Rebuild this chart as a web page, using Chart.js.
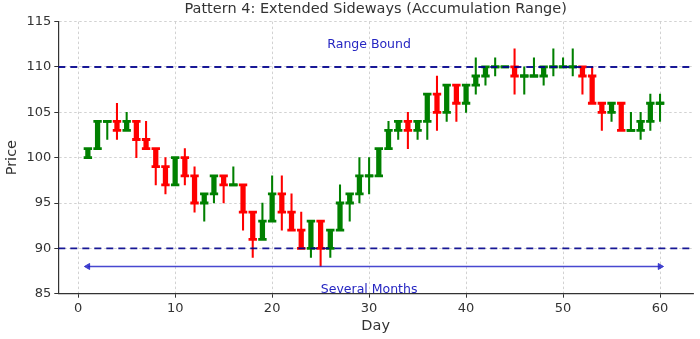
<!DOCTYPE html>
<html>
<head>
<meta charset="utf-8">
<script src="https://cdn.jsdelivr.net/npm/chart.js@4/dist/chart.umd.min.js"></script>
<style>
  html, body { margin: 0; padding: 0; background: #fff; }
  #wrap { width: 700px; height: 339px; }
</style>
</head>
<body>
<div id="wrap"><canvas id="Canvas1"></canvas></div>
<script>
// candles
var days   = [1,2,3,4,5,6,7,8,9,10,11,12,13,14,15,16,17,18,19,20,21,22,23,24,25,26,27,28,29,30,
              31,32,33,34,35,36,37,38,39,40,41,42,43,44,45,46,47,48,49,50,51,52,53,54,55,56,57,58,59,60];
var opens  = [100,101,104,104,103,104,102,101,99,97,100,98,95,96,98,97,97,94,91,93,96,94,92,90,93,90,92,95,96,98,
              98,101,103,104,103,104,107,105,108,106,108,109,110,110,110,109,109,109,110,110,110,110,109,106,105,106,103,103,104,106];
var closes = [101,104,104,103,104,102,101,99,97,100,98,95,96,98,97,97,94,91,93,96,94,92,90,93,90,92,95,96,98,98,
              101,103,104,103,104,107,105,108,106,108,109,110,110,110,109,109,109,110,110,110,110,109,106,105,106,103,103,104,106,106];
var highs  = [101,104,104,106,105,104,104,101,100,100,101,99,96,98,98,99,97,94,95,98,98,96,94,93,93,92,97,96,100,100,
              101,104,104,105,104,107,109,108,108,108,111,110,111,110,112,110,111,110,112,111,112,110,110,106,106,106,105,105,107,107];
var lows   = [100,101,102,102,103,100,101,97,96,97,97,94,93,95,95,97,92,89,91,93,92,92,90,89,88,89,92,93,95,96,
              98,101,102,101,102,102,103,104,104,105,107,108,109,110,107,107,109,108,109,110,109,107,106,103,104,103,103,102,103,104];

var xTicks = [0, 10, 20, 30, 40, 50, 60];
var yTicks = [85, 90, 95, 100, 105, 110, 115];
var rangeLevels = [110, 90];
var arrowX = [1, 60];
var arrowY = 88;
var noteTexts = ['Range Bound', 'Several Months'];
var noteX = [30, 30];
var noteY = [112.5, 85.45];

var xMin = -2.05, xMax = 63.4;
var upColor = '#008000', downColor = '#ff0000';
var candleColors = days.map(function (d, i) { return closes[i] >= opens[i] ? upColor : downColor; });
var tickFont = { family: '"DejaVu Sans"', size: 13 };
var labelFont = { family: '"DejaVu Sans"', size: 14.5 };

var notes = {
    id: 'notes',
    afterDatasetsDraw: function (chart) {
        var ctx = chart.ctx, x = chart.scales.x, y = chart.scales.y;
        ctx.save();
        ctx.font = '12.5px "DejaVu Sans"';
        ctx.fillStyle = '#2626c2';
        ctx.textAlign = 'center';
        ctx.textBaseline = 'middle';
        noteTexts.forEach(function (t, i) {
            ctx.fillText(t, x.getPixelForValue(noteX[i]), y.getPixelForValue(noteY[i]));
        });
        ctx.restore();
    }
};

var datasets = [{
    type: 'bar',
    label: 'wick',
    data: days.map(function (d, i) { return { x: d, y: [lows[i], highs[i]] }; }),
    backgroundColor: candleColors,
    barThickness: 1.4,
    grouped: false,
    order: 5
}, {
    type: 'bar',
    label: 'body',
    data: days.map(function (d, i) { return { x: d, y: [opens[i], closes[i]] }; }),
    backgroundColor: candleColors,
    barThickness: 4.6,
    grouped: false,
    order: 4
}, {
    type: 'line',
    label: 'open cap',
    data: days.map(function (d, i) { return { x: d, y: opens[i] }; }),
    showLine: false,
    pointStyle: 'line',
    pointRadius: 4.2,
    pointBorderWidth: 2.8,
    pointBorderColor: candleColors,
    order: 3
}, {
    type: 'line',
    label: 'close cap',
    data: days.map(function (d, i) { return { x: d, y: closes[i] }; }),
    showLine: false,
    pointStyle: 'line',
    pointRadius: 4.2,
    pointBorderWidth: 2.8,
    pointBorderColor: candleColors,
    order: 3
}];

rangeLevels.forEach(function (lv) {
    datasets.push({
        type: 'line',
        label: 'level',
        data: [{ x: xMin, y: lv }, { x: xMax, y: lv }],
        borderColor: 'rgba(0, 0, 140, 0.9)',
        borderWidth: 1.9,
        borderDash: [7, 5],
        borderCapStyle: 'butt',
        pointRadius: 0,
        order: 1
    });
});

datasets.push({
    type: 'line',
    label: 'arrow',
    data: arrowX.map(function (v) { return { x: v, y: arrowY }; }),
    borderColor: 'rgba(40, 40, 200, 0.85)',
    backgroundColor: 'rgba(40, 40, 200, 0.85)',
    borderWidth: 1.5,
    pointStyle: 'triangle',
    pointRadius: 3.5,
    pointRotation: [270, 90],
    pointBorderWidth: 1,
    order: 0
});

var GKChart = document.getElementById('Canvas1').getContext('2d');
var myChart = new Chart(GKChart, {
    type: 'bar',
    data: { datasets: datasets },
    plugins: [notes],
    options: {
        responsive: true,
        maintainAspectRatio: false,
        animation: false,
        events: [],
        layout: { padding: { left: 0, right: 3, top: 0, bottom: 0 } },
        plugins: {
            legend: { display: false },
            tooltip: { enabled: false },
            title: {
                display: true,
                fullSize: false,
                text: 'Pattern 4: Extended Sideways (Accumulation Range)',
                color: '#333',
                font: { family: '"DejaVu Sans"', size: 14.5, weight: 'normal' },
                padding: { top: 1, bottom: 3.2 }
            }
        },
        scales: {
            x: {
                type: 'linear',
                min: xMin,
                max: xMax,
                offset: false,
                afterBuildTicks: function (s) { s.ticks = xTicks.map(function (v) { return { value: v }; }); },
                afterFit: function (s) { s.height = 45.3; },
                grid: { color: '#c6c6c6', lineWidth: 0.8, offset: false, tickLength: 4, tickColor: '#333', tickWidth: 1 },
                border: { color: '#333', width: 1.2, dash: [2.5, 2.5] },
                ticks: { color: '#333', font: tickFont, padding: 3, maxRotation: 0 },
                title: { display: true, text: 'Day', color: '#333', font: labelFont, padding: { top: 0, bottom: 4.5 } }
            },
            y: {
                min: 85,
                max: 115,
                afterBuildTicks: function (s) { s.ticks = yTicks.map(function (v) { return { value: v }; }); },
                afterFit: function (s) { s.width = 58.3; },
                grid: { color: '#c6c6c6', lineWidth: 0.8, tickLength: 4, tickColor: '#333', tickWidth: 1 },
                border: { color: '#333', width: 1.2, dash: [2.5, 2.5] },
                ticks: { color: '#333', font: tickFont, padding: 3 },
                title: { display: true, text: 'Price', color: '#333', font: labelFont, padding: { top: 4, bottom: 0 } }
            }
        }
    }
});
</script>
</body>
</html>
